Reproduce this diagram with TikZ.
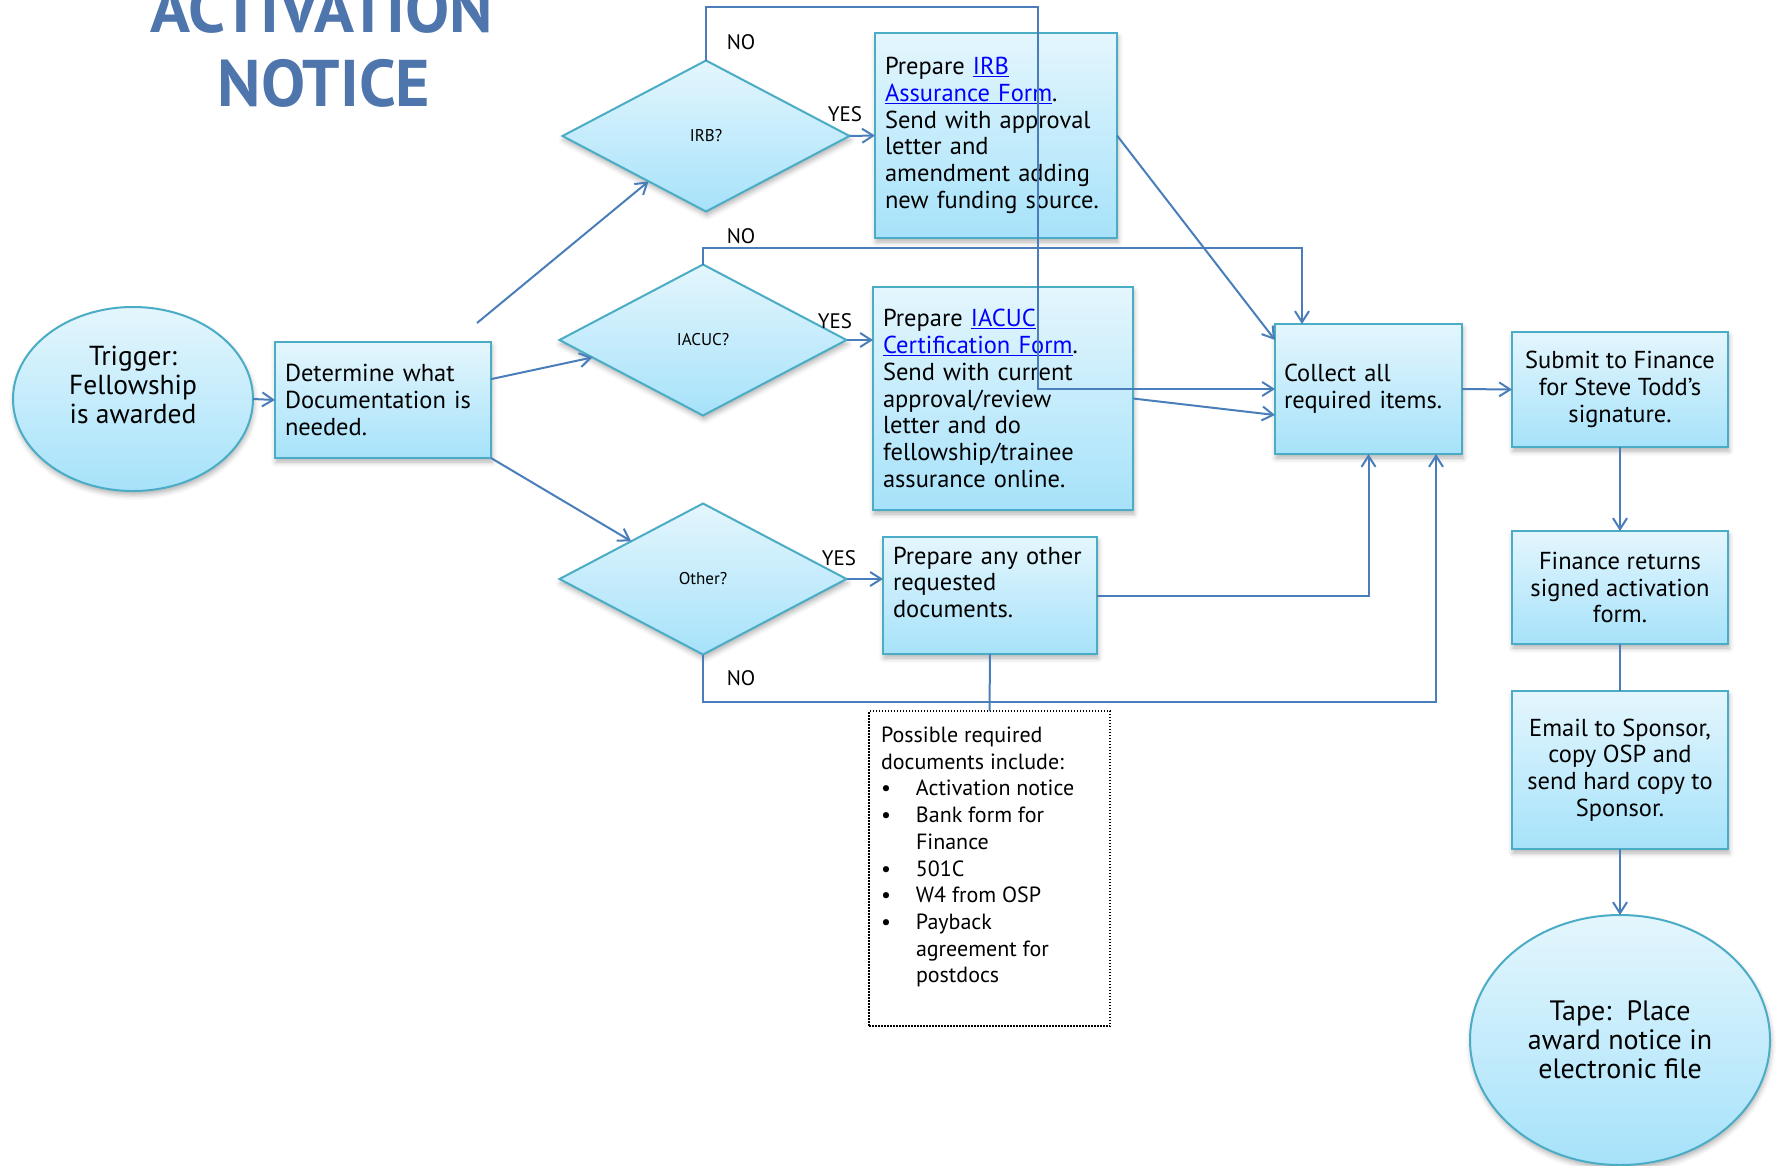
\documentclass[tikz,border=0pt]{standalone}
\usepackage{fontspec}
\setmainfont{PT Sans}
\usetikzlibrary{arrows.meta,shapes.geometric,shadows.blur,calc}

\definecolor{boxline}{RGB}{75,172,198}
\definecolor{boxtop}{RGB}{228,246,253}
\definecolor{boxbot}{RGB}{166,226,250}
\definecolor{wirecol}{RGB}{74,126,187}
\definecolor{titleblue}{RGB}{79,117,173}
\definecolor{linkblue}{RGB}{0,0,255}

\newcommand\lnk[1]{\textcolor{linkblue}{\underline{#1}}}
\newcommand\fbody{\fontsize{24.5pt}{26.7pt}\selectfont}
\newcommand\fbig{\fontsize{27.5pt}{29pt}\selectfont}
\newcommand\fnote{\fontsize{22pt}{26.7pt}\selectfont}
\newcommand\ftag{\fontsize{21pt}{24pt}\selectfont}
\newcommand\fask{\fontsize{17pt}{20pt}\selectfont}
\newcommand\ftitle{\fontsize{66pt}{74pt}\selectfont\bfseries}
\newcommand\itm{\makebox[35pt][l]{\textbullet}}
\newcommand\itmcont{\hspace*{35pt}}

\begin{document}
\begin{tikzpicture}[x=1pt,y=-1pt,
  every node/.style={inner sep=0pt,outer sep=0pt},
  wire/.style={draw=wirecol,line width=2pt},
  arr/.style={wire,-{Straight Barb[length=11pt,width=14pt]}},
  filled/.style={draw=boxline,line width=2pt,top color=boxtop,bottom color=boxbot,
    blur shadow={shadow xshift=1pt,shadow yshift=-4pt,shadow blur radius=5pt,shadow opacity=30}},
  stepbox/.style={filled,rectangle,inner xsep=10pt,font=\fbody,align=left},
  midbox/.style={filled,rectangle,font=\fbody,align=center},
  decision/.style={filled,diamond,minimum width=287pt,minimum height=151pt,font=\fask},
  terminal/.style={filled,ellipse,font=\fbig,align=center},
  tag/.style={font=\ftag},
]
\path[use as bounding box] (0,0) rectangle (1777,1165);
\clip (0,0) rectangle (1777,1165);

% title
\node[font=\ftitle,text=titleblue,anchor=base] (title1) at (322,32) {ACTIVATION};
\node[font=\ftitle,text=titleblue,anchor=base] (title2) at (324,106) {NOTICE};

% start and first step
\node[terminal,minimum width=240pt,minimum height=184pt] (trigger) at (133,399)
  {Trigger:\\Fellowship\\is awarded\\\mbox{}};
\node[stepbox,minimum width=216pt,minimum height=116pt,text width=196pt] (determine) at (383,400)
  {Determine what\\Documentation is\\needed.};

% decisions
\node[decision] (irb) at (706,136) {\raisebox{-2pt}{IRB?}};
\node[decision] (iacuc) at (703,340) {\raisebox{-2pt}{IACUC?}};
\node[decision] (other) at (703,579) {\raisebox{-2pt}{Other?}};

% preparation steps
\node[stepbox,minimum width=242pt,minimum height=205pt,text width=222pt] (irbbox) at (996,135.5)
  {\raisebox{-3pt}{\parbox{222pt}{Prepare \lnk{IRB}\\\lnk{Assurance Form}.\\Send with approval\\letter and\\amendment adding\\new funding source.}}};
\node[stepbox,minimum width=260pt,minimum height=223pt,text width=240pt] (iacucbox) at (1003,398.5)
  {Prepare \lnk{IACUC}\\\lnk{Certification Form}.\\Send with current\\approval/review\\letter and do\\fellowship/trainee\\assurance online.};
\node[stepbox,minimum width=214pt,minimum height=117pt,text width=194pt] (otherbox) at (990,595.5)
  {Prepare any other\\requested\\documents.\\\mbox{}};

% note on the possible documents
\node[draw,line width=1.5pt,dash pattern=on 1.5pt off 1.5pt,minimum width=241pt,minimum height=315pt] (notes) at (989.5,868.5) {};
\node[anchor=north west,font=\fnote,align=left] (notetext) at (881,727)
  {Possible required\\documents include:\\
   \itm Activation notice\\
   \itm Bank form for\\
   \itmcont Finance\\
   \itm 501C\\
   \itm W4 from OSP\\
   \itm Payback\\
   \itmcont agreement for\\
   \itmcont postdocs};

% collection and sign-off
\node[stepbox,inner xsep=9pt,minimum width=187pt,minimum height=130pt,text width=169pt] (collect) at (1368.5,389)
  {Collect all\\required items.};
\node[midbox,minimum width=216pt,minimum height=115pt] (submit) at (1620,389.5)
  {Submit to Finance\\for Steve Todd’s\\signature.};
\node[midbox,minimum width=216pt,minimum height=113pt] (finance) at (1620,587.5)
  {Finance returns\\signed activation\\form.};
\node[midbox,minimum width=216pt,minimum height=158pt] (email) at (1620,770)
  {Email to Sponsor,\\copy OSP and\\send hard copy to\\Sponsor.};
\node[terminal,font=\fontsize{28pt}{29pt}\selectfont,minimum width=300pt,minimum height=250pt] (tape) at (1620,1040)
  {Tape:\ \ Place\\award notice in\\electronic file};

% branch labels
\node[tag] (noirb) at (741,42) {NO};
\node[tag] (yesirb) at (845,114) {YES};
\node[tag] (noiacuc) at (741,236) {NO};
\node[tag] (yesiacuc) at (835,321) {YES};
\node[tag] (yesother) at (839,558) {YES};
\node[tag] (noother) at (741,678) {NO};

% connectors
\coordinate (dstart) at (477,323);
\coordinate (irbturn) at (1038,7);
\coordinate (iacucturn) at (1302,248);
\coordinate (otherturn) at (1436,702);

\draw[arr] (trigger.east) -- (determine.west);
\draw[arr] (dstart) -- ($(irb.west)!0.6!(irb.south)$);
\draw[arr] ($(determine.north east)!0.32!(determine.south east)$) -- ($(iacuc.west)!0.23!(iacuc.south)$);
\draw[arr] (determine.south east) -- ($(other.west)!0.5!(other.north)$);

\draw[arr] (irb.east) -- (irbbox.west);
\draw[arr] (iacuc.east) -- (iacuc.east -| iacucbox.west);
\draw[arr] (other.east) -- (other.east -| otherbox.west);

\draw[arr] (irb.north) |- (irbturn) |- (collect.west);
\draw[arr] (iacuc.north) |- (iacucturn) -- (iacucturn |- collect.north);
\draw[arr] (irbbox.east) -- ($(collect.north west)+(0,16)$);
\draw[arr] (iacucbox.east) -- ($(collect.west)+(0,26)$);
\draw[arr] (otherbox.east) -| (collect.south);
\draw[arr] (other.south) |- (otherturn) -- (otherturn |- collect.south);
\draw[wire] (otherbox.south) -- (notes.north);

\draw[arr] (collect.east) -- (submit.west);
\draw[arr] (submit.south) -- (finance.north);
\draw[wire] (finance.south) -- (email.north);
\draw[arr] (email.south) -- (tape.north);
\end{tikzpicture}
\end{document}
